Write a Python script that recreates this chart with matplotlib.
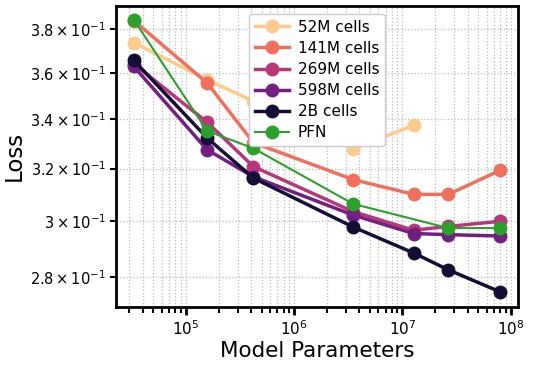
import matplotlib
matplotlib.use("Agg")
import matplotlib.pyplot as plt

# model sizes (parameters)
params = [3.3e4, 1.57e5, 4.2e5, 3.5e6, 1.27e7, 2.65e7, 8.0e7]

loss_52m = [0.3737, 0.3570, 0.3477, 0.3279, 0.3375]
loss_141m = [0.3840, 0.3556, 0.3304, 0.3157, 0.3100, 0.3100, 0.3193]
loss_269m = [0.3641, 0.3388, 0.3208, 0.3035, 0.2966, 0.2980, 0.2999]
loss_598m = [0.3629, 0.3275, 0.3168, 0.3022, 0.2954, 0.2950, 0.2945]
loss_2b = [0.3656, 0.3323, 0.3163, 0.2978, 0.2884, 0.2825, 0.2749]

pfn_params = [3.3e4, 1.57e5, 4.2e5, 3.5e6, 2.65e7, 8.0e7]
loss_pfn = [0.3844, 0.3352, 0.3281, 0.3064, 0.2974, 0.2974]

labels = ["52M cells", "141M cells", "269M cells", "598M cells", "2B cells"]
colours = ["#feca8d", "#f1705d", "#b73779", "#721f81", "#140e36"]

fig = plt.figure(figsize=(5.33, 3.68), dpi=100)
ax = fig.add_axes([0.218, 0.167, 0.754, 0.817])

series = [loss_52m, loss_141m, loss_269m, loss_598m, loss_2b]
for lab, col, ys in zip(labels, colours, series):
    ax.plot(params[:len(ys)], ys, "-o", color=col, lw=2.5, ms=9, label=lab)
ax.plot(pfn_params, loss_pfn, "-o", color="#2ca02c", lw=1.5, ms=9, label="PFN")

ax.set_xscale("log")
ax.set_yscale("log")
ax.set_xlim(2.27e4, 1.17e8)
ax.set_ylim(0.270, 0.391)

ax.grid(True, which="both", color="#bbbbbb", linestyle=":", linewidth=0.9)
ax.set_axisbelow(True)

for s in ax.spines.values():
    s.set_linewidth(2)
ax.tick_params(which="major", length=6, width=2, labelsize=10.5)
ax.tick_params(which="minor", length=4, width=1.5, labelsize=10.5)
ax.tick_params(axis="x", which="both", labelsize=11)

ax.set_xlabel("Model Parameters", fontsize=15.5, labelpad=2)
ax.set_ylabel("Loss", fontsize=16.5)
ax.yaxis.set_label_coords(-0.225, 0.5)

ax.legend(loc="upper center", fontsize=11, handlelength=2.2, borderpad=0.4,
          labelspacing=0.4, handletextpad=0.6, borderaxespad=0.5, framealpha=1)

fig.savefig("out.png", dpi=100)
